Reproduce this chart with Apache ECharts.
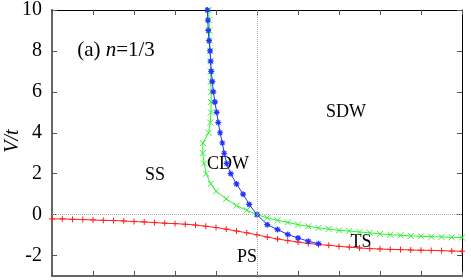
<!DOCTYPE html>
<html><head><meta charset="utf-8">
<script src="https://cdn.jsdelivr.net/npm/echarts@6/dist/echarts.min.js"></script>
<style>html,body{margin:0;padding:0;background:#fff}#c{width:471px;height:280px}</style>
</head><body><div id="c"></div>
<script>
// PS boundary (red, +)
const redU = [-10,-9.5,-9,-8.5,-8,-7.5,-7,-6.5,-6,-5.5,-5,-4.5,-4,-3.5,-3,-2.5,-2,-1.5,-1,-0.5,0,0.5,1,1.5,2,2.5,3,3.5,4,4.5,5,5.5,6,6.5,7,7.5,8,8.5,9,9.5,10];
const redV = [-0.21,-0.21,-0.23,-0.24,-0.26,-0.28,-0.29,-0.31,-0.34,-0.36,-0.39,-0.42,-0.44,-0.47,-0.51,-0.57,-0.63,-0.71,-0.80,-0.89,-0.99,-1.10,-1.19,-1.27,-1.34,-1.41,-1.46,-1.50,-1.55,-1.59,-1.63,-1.66,-1.68,-1.70,-1.71,-1.73,-1.74,-1.75,-1.76,-1.78,-1.79];
// SS / TS boundary (green, x)
const greenU = [-2.36,-2.34,-2.32,-2.30,-2.28,-2.27,-2.26,-2.25,-2.24,-2.24,-2.25,-2.28,-2.36,-2.64,-2.65,-2.58,-2.48,-2.25,-2,-1.5,-1,-0.5,0,0.5,1,1.5,2,2.5,3,3.5,4,4.5,5,5.5,6,6.5,7,7.5,8,8.5,9,9.5,10];
const greenV = [10,9.5,9,8.5,8,7.5,7,6.5,6,5.5,5,4.5,4,3.5,3,2.5,2,1.5,1.14,0.77,0.44,0.21,0,-0.16,-0.28,-0.38,-0.49,-0.57,-0.65,-0.70,-0.77,-0.80,-0.85,-0.89,-0.94,-0.98,-1.01,-1.04,-1.06,-1.08,-1.09,-1.11,-1.12];
// CDW / SDW boundary (blue, *)
const blueU = [-2.42,-2.40,-2.38,-2.34,-2.29,-2.26,-2.23,-2.18,-2.13,-2.05,-1.97,-1.89,-1.80,-1.69,-1.60,-1.48,-1.28,-1.0,-0.68,-0.38,0,0.5,1,1.5,2,2.5,3];
const blueV = [10,9.5,9,8.5,8,7.5,7,6.5,6,5.5,5,4.5,4,3.5,3,2.5,2,1.5,1,0.5,0,-0.49,-0.73,-0.97,-1.14,-1.30,-1.42];
const yTicks = [-2,0,2,4,6,8,10];
const phaseLabels = ['SDW','SS','CDW','TS','PS'];

const zip = (a,b) => a.map((v,i) => [v,b[i]]);
const SERIF = '"Liberation Serif", "DejaVu Serif", serif';
const symPlus = 'path://M0,5L10,5M5,0L5,10';
const symCross = 'path://M0,0L10,10M10,0L0,10';
const symStar = 'path://M0,5L10,5M5,0L5,10M1.5,1.5L8.5,8.5M8.5,1.5L1.5,8.5';

function mkSeries(data, color, sym, size, bw){
  return {type:'line', data, showAllSymbol:true, symbol:sym, symbolSize:size,
    lineStyle:{color, width:1}, itemStyle:{color:'rgba(0,0,0,0)', borderColor:color, borderWidth:bw},
    z:3, animation:false};
}
const chart = echarts.init(document.getElementById('c'), null, {renderer:'canvas'});
const axCommon = {type:'value', splitLine:{show:false}};
const tickStyle = {inside:true, length:5, lineStyle:{color:'#555'}};
chart.setOption({
  animation:false,
  grid:{left:52, top:10, right:9, bottom:4},
  xAxis:[
    Object.assign({}, axCommon, {min:-10, max:10, interval:2, position:'bottom',
      axisLine:{onZero:false, lineStyle:{color:'#666', width:2}}, axisTick:tickStyle, axisLabel:{show:false}}),
    Object.assign({}, axCommon, {min:-10, max:10, interval:2, position:'top',
      axisLine:{onZero:false, lineStyle:{color:'#000', width:1}}, axisTick:tickStyle, axisLabel:{show:false}})
  ],
  yAxis:[
    Object.assign({}, axCommon, {min:-3, max:10, position:'left',
      axisLine:{show:true, onZero:false, lineStyle:{color:'#666', width:2}},
      axisTick:Object.assign({show:true, customValues:yTicks}, tickStyle),
      axisLabel:{customValues:yTicks, margin:10, color:'#000', fontSize:20, fontFamily:SERIF}}),
    Object.assign({}, axCommon, {min:-3, max:10, position:'right',
      axisLine:{show:true, onZero:false, lineStyle:{color:'#000', width:1}},
      axisTick:Object.assign({show:true, customValues:yTicks}, tickStyle),
      axisLabel:{show:false}})
  ],
  series:[
    {type:'line', data:[], z:1, markLine:{silent:true, symbol:'none', label:{show:false}, animation:false,
      lineStyle:{type:'dotted', color:'#aaa', width:1}, data:[{yAxis:0},{xAxis:0}]}},
    mkSeries(zip(redU, redV), '#ff2020', symPlus, 6, 1),
    mkSeries(zip(greenU, greenV), '#33ee33', symCross, 6, 1),
    mkSeries(zip(blueU, blueV), '#2233ff', symStar, 6, 1.2)
  ],
  graphic:[
    {type:'text', x:13, y:141, rotation:Math.PI/2, style:{text:'V/t', fill:'#000', fontSize:20, fontStyle:'italic', fontFamily:SERIF, align:'center', verticalAlign:'middle'}},
    {type:'text', x:116, y:50, style:{text:'(a) {i|n}=1/3', fill:'#000', fontSize:21, fontFamily:SERIF, align:'center', verticalAlign:'middle', rich:{i:{fontStyle:'italic', fontSize:21, fontFamily:SERIF}}}},
    {type:'text', x:346, y:112, style:{text:phaseLabels[0], fill:'#000', fontSize:18, fontFamily:SERIF, align:'center', verticalAlign:'middle'}},
    {type:'text', x:155, y:175, style:{text:phaseLabels[1], fill:'#000', fontSize:18, fontFamily:SERIF, align:'center', verticalAlign:'middle'}},
    {type:'text', x:228, y:164, style:{text:phaseLabels[2], fill:'#000', fontSize:18, fontFamily:SERIF, align:'center', verticalAlign:'middle'}},
    {type:'text', x:361, y:242, style:{text:phaseLabels[3], fill:'#000', fontSize:18, fontFamily:SERIF, align:'center', verticalAlign:'middle'}},
    {type:'text', x:247, y:257, style:{text:phaseLabels[4], fill:'#000', fontSize:18, fontFamily:SERIF, align:'center', verticalAlign:'middle'}}
  ]
});
</script></body></html>
